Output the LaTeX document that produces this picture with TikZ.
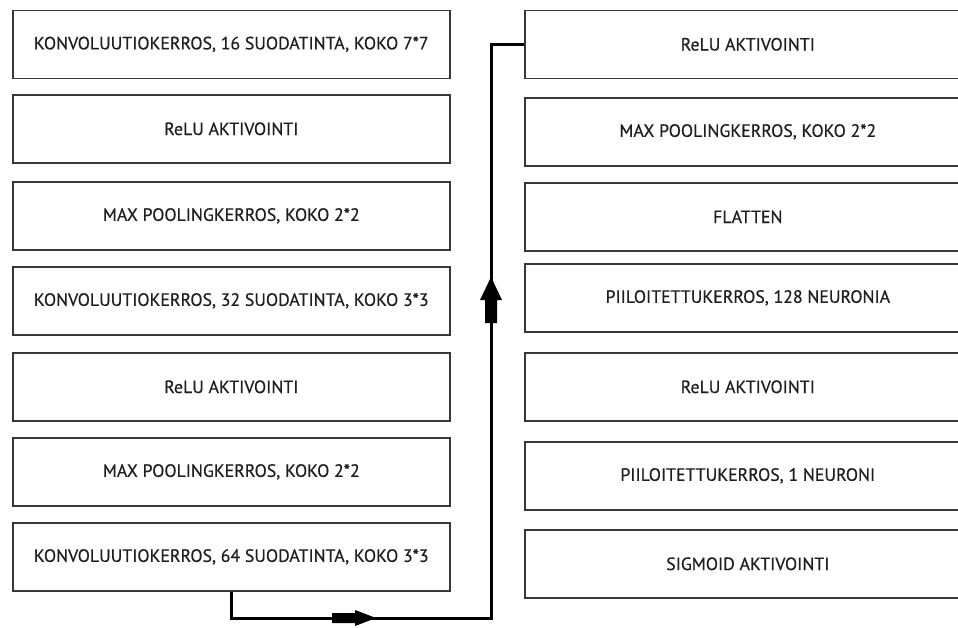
\documentclass[tikz,border=0pt]{standalone}
\usepackage{fontspec}
\setmainfont{PT Sans}
% slightly heavier regular weight for the layer labels
\newfontfamily\labelfont{PT Sans}[BoldFont={PT Sans},BoldFeatures={FakeBold=0.5}]
\begin{document}
\begin{tikzpicture}[x=1pt,y=-1pt,
  layerbox/.style={draw=black!78, line width=1.6pt, fill=white,
    minimum height=68pt, inner sep=0pt, anchor=north west,
    font=\labelfont\bfseries\fontsize{17.8}{20}\selectfont, text=black!88},
  leftbox/.style={layerbox, minimum width=437pt},
  rightbox/.style={layerbox, minimum width=446pt},
  link/.style={draw=black, line width=3pt},
  blockhead/.style={fill=black}]
\useasboundingbox (0,0) rectangle (958,627);
\clip (0,0) rectangle (958,627);

% left column
\node[leftbox] (L1) at (12,9.5) {KONVOLUUTIOKERROS, 16 SUODATINTA, KOKO 7*7};
\node[leftbox] (L2) at (12,94)  {ReLU AKTIVOINTI};
\node[leftbox] (L3) at (12,181) {MAX POOLINGKERROS, KOKO 2*2};
\node[leftbox] (L4) at (12,266) {KONVOLUUTIOKERROS, 32 SUODATINTA, KOKO 3*3};
\node[leftbox] (L5) at (12,352) {ReLU AKTIVOINTI};
\node[leftbox] (L6) at (12,437) {MAX POOLINGKERROS, KOKO 2*2};
\node[leftbox] (L7) at (12,522) {KONVOLUUTIOKERROS, 64 SUODATINTA, KOKO 3*3};

% right column
\node[rightbox] (R1) at (524,9.5) {ReLU AKTIVOINTI};
\node[rightbox] (R2) at (524,97)  {MAX POOLINGKERROS, KOKO 2*2};
\node[rightbox] (R3) at (524,182) {FLATTEN};
\node[rightbox] (R4) at (524,263) {PIILOITETTUKERROS, 128 NEURONIA};
\node[rightbox] (R5) at (524,352) {ReLU AKTIVOINTI};
\node[rightbox] (R6) at (524,441) {PIILOITETTUKERROS, 1 NEURONI};
\node[rightbox] (R7) at (524,529) {SIGMOID AKTIVOINTI};

% connector from the last left layer to the first right layer
\coordinate (bend) at (491,618);
\draw[link] (L7.south) |- (bend) |- (R1.west);

% block arrow markers on the connector
\fill[blockhead] (332,613) -- (355,613) -- (355,610) -- (376,618)
  -- (355,626) -- (355,623) -- (332,623) -- cycle;
\fill[blockhead] (485,323) -- (485,300) -- (480,300) -- (491,277)
  -- (502,300) -- (497,300) -- (497,323) -- cycle;
\end{tikzpicture}
\end{document}
